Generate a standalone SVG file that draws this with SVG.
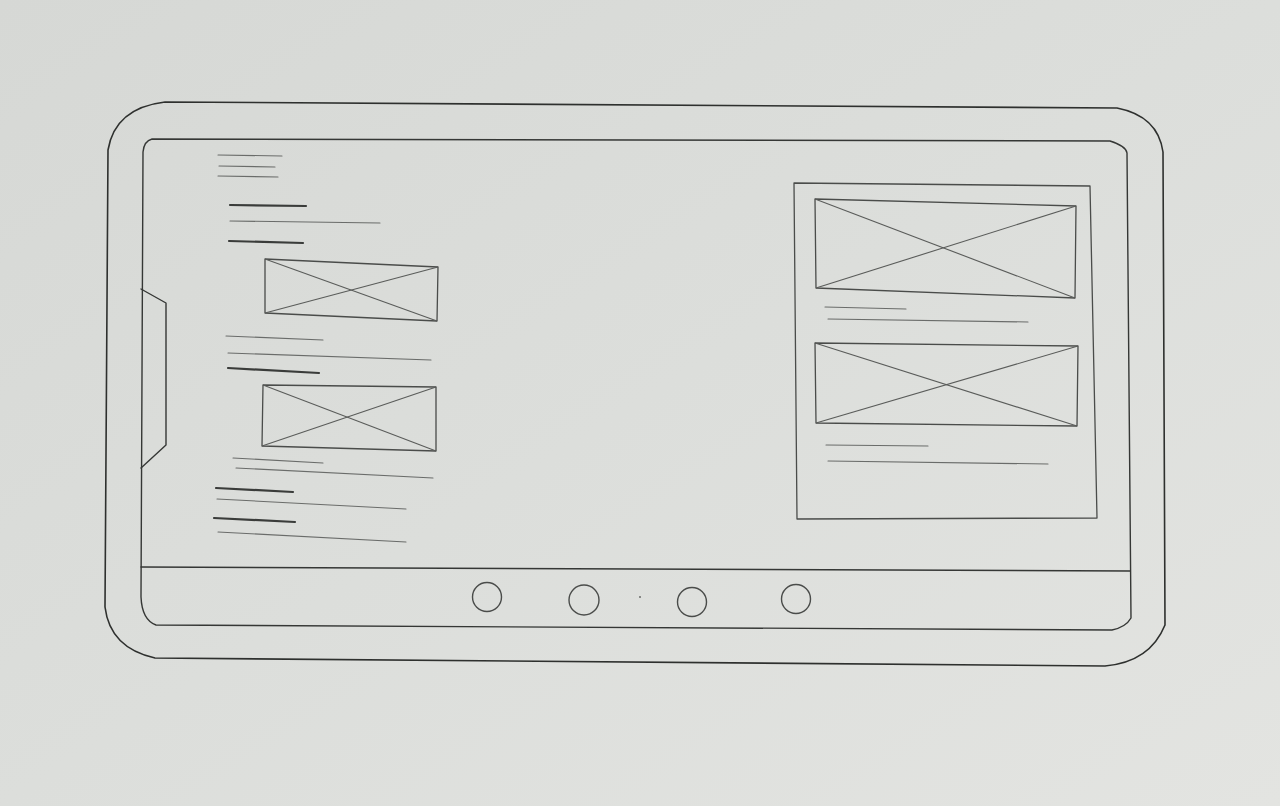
<svg xmlns="http://www.w3.org/2000/svg" width="1280" height="806" viewBox="0 0 1280 806">
<defs>
<linearGradient id="paper" x1="0" y1="0" x2="1" y2="1">
<stop offset="0" stop-color="#d6d8d5"/>
<stop offset="0.5" stop-color="#dcdedb"/>
<stop offset="1" stop-color="#e3e4e1"/>
</linearGradient>
<style>
.frame{fill:none;stroke:#2e302e;stroke-width:1.6;stroke-linecap:round;stroke-linejoin:round}
.inner{fill:none;stroke:#353735;stroke-width:1.4;stroke-linecap:round;stroke-linejoin:round}
.box{fill:none;stroke:#4a4c4a;stroke-width:1.3;stroke-linejoin:round}
.x{fill:none;stroke:#5a5c5a;stroke-width:1.1}
.thin{fill:none;stroke:#6a6c6a;stroke-width:1.1;stroke-linecap:round}
.thick{fill:none;stroke:#3a3c3a;stroke-width:2.2;stroke-linecap:round}
.btn{fill:none;stroke:#4a4c4a;stroke-width:1.4}
</style>
</defs>
<rect x="0" y="0" width="1280" height="806" fill="url(#paper)"/>

<g id="device">
<path class="frame" d="M165,102 L1117,108 Q1158,116 1163,152 L1165,625 Q1150,662 1105,666 L155,658 Q110,648 105,607 L108,150 Q115,108 165,102 Z"/>
</g>

<g id="screen">
<path class="inner" d="M152,139 L1110,141 Q1126,146 1127,153 L1131,618 Q1126,627 1112,630 L156,625 Q142,620 141,597 L143,152 Q144,141 152,139 Z"/>
<path class="inner" d="M141,289 L166,303 L166,445 L141,468"/>
</g>

<g id="left-content">
<line class="thin" x1="218" y1="155" x2="282" y2="156"/>
<line class="thin" x1="219" y1="166" x2="275" y2="167"/>
<line class="thin" x1="218" y1="176" x2="278" y2="177"/>
<line class="thick" x1="230" y1="205" x2="306" y2="206"/>
<line class="thin" x1="230" y1="221" x2="380" y2="223"/>
<line class="thick" x1="229" y1="241" x2="303" y2="243"/>
<g id="left-image-1">
<path class="box" d="M265,259 L438,267 L437,321 L265,313 Z"/>
<line class="x" x1="265" y1="259" x2="437" y2="321"/>
<line class="x" x1="265" y1="313" x2="438" y2="267"/>
</g>
<line class="thin" x1="226" y1="336" x2="323" y2="340"/>
<line class="thin" x1="228" y1="353" x2="431" y2="360"/>
<line class="thick" x1="228" y1="368" x2="319" y2="373"/>
<g id="left-image-2">
<path class="box" d="M263,385 L436,387 L436,451 L262,446 Z"/>
<line class="x" x1="263" y1="385" x2="436" y2="451"/>
<line class="x" x1="262" y1="446" x2="436" y2="387"/>
</g>
<line class="thin" x1="233" y1="458" x2="323" y2="463"/>
<line class="thin" x1="236" y1="468" x2="433" y2="478"/>
<line class="thick" x1="216" y1="488" x2="293" y2="492"/>
<line class="thin" x1="217" y1="499" x2="406" y2="509"/>
<line class="thick" x1="214" y1="518" x2="295" y2="522"/>
<line class="thin" x1="218" y1="532" x2="406" y2="542"/>
</g>

<g id="right-panel">
<path class="box" d="M794,183 L1090,186 L1097,518 L797,519 Z"/>
<g id="right-image-1">
<path class="box" d="M815,199 L1076,206 L1075,298 L816,288 Z"/>
<line class="x" x1="815" y1="199" x2="1075" y2="298"/>
<line class="x" x1="816" y1="288" x2="1076" y2="206"/>
</g>
<line class="thin" x1="825" y1="307" x2="906" y2="309"/>
<line class="thin" x1="828" y1="319" x2="1028" y2="322"/>
<g id="right-image-2">
<path class="box" d="M815,343 L1078,346 L1077,426 L816,423 Z"/>
<line class="x" x1="815" y1="343" x2="1077" y2="426"/>
<line class="x" x1="816" y1="423" x2="1078" y2="346"/>
</g>
<line class="thin" x1="826" y1="445" x2="928" y2="446"/>
<line class="thin" x1="828" y1="461" x2="1048" y2="464"/>
</g>

<g id="nav-bar">
<line class="inner" x1="141" y1="567" x2="1130" y2="571"/>
<circle class="btn" cx="487" cy="597" r="14.5"/>
<circle class="btn" cx="584" cy="600" r="15"/>
<circle class="btn" cx="692" cy="602" r="14.5"/>
<circle class="btn" cx="796" cy="599" r="14.5"/>
<circle cx="640" cy="597" r="1" fill="#6a6c6a"/>
</g>
</svg>
